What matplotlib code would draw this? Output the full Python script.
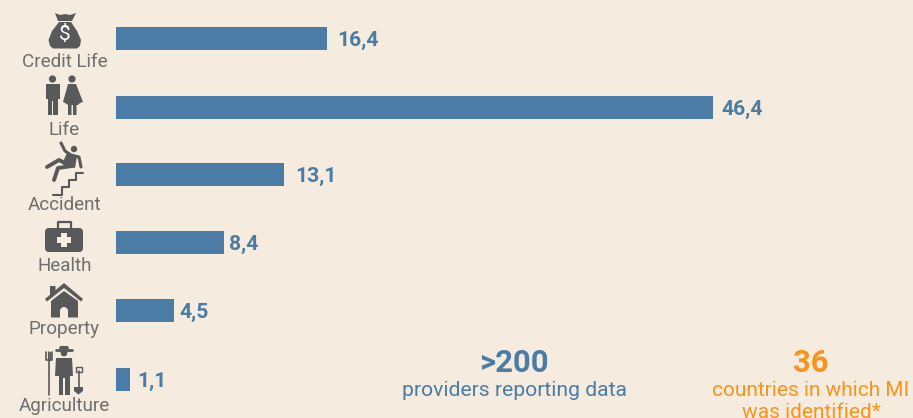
import matplotlib
matplotlib.use("Agg")
import matplotlib.pyplot as plt
from matplotlib.patches import Polygon, Circle, FancyBboxPatch, Rectangle, Wedge

categories = ["Credit Life", "Life", "Accident", "Health", "Property", "Agriculture"]
values = [16.4, 46.4, 13.1, 8.4, 4.5, 1.1]
value_labels = ["16,4", "46,4", "13,1", "8,4", "4,5", "1,1"]
bar_rows = [38.5, 107, 174.5, 242, 310, 379]
label_rows = [62, 130, 205, 266, 329, 406]

bg = "#f5ebde"
blue = "#4a7ca5"
orange = "#f7941e"
icon = "#58595b"
grey = "#6d6e70"
font = "Roboto"

fig = plt.figure(figsize=(9.13, 4.18), dpi=100, facecolor=bg)

# bars, y axis runs in picture rows so the uneven spacing stays
ax = fig.add_axes([116 / 913, 0, 797 / 913, 1])
ax.set_facecolor("none")
ax.barh(bar_rows, values, height=23, color=blue)
ax.set_xlim(0, 797 / 12.86)
ax.set_ylim(418, 0)
ax.axis("off")

# overlay in pixels for labels and icons
ov = fig.add_axes([0, 0, 1, 1])
ov.set_xlim(0, 913)
ov.set_ylim(418, 0)
ov.axis("off")
ov.patch.set_alpha(0)

label_x = [337, 721, 295.5, 229.5, 179, 137.5]
for x, r, t in zip(label_x, bar_rows, value_labels):
    ov.text(x, r + 2, t, color=blue, fontsize=15.2, fontweight="bold", family=font, va="center", ha="left")
for c, r in zip(categories, label_rows):
    ov.text(64.5, r, c, color=grey, fontsize=13.6, family=font, va="center", ha="center")


def poly(pts, color=icon):
    ov.add_patch(Polygon(pts, closed=True, fc=color, ec="none"))


def line(pts, lw=2.0, color=icon):
    ov.plot([p[0] for p in pts], [p[1] for p in pts], color=color, lw=lw,
            solid_capstyle="round", solid_joinstyle="round")


def circ(x, y, r, color=icon):
    ov.add_patch(Circle((x, y), r, fc=color, ec="none"))


# money bag
poly([(55, 13), (60, 15), (65, 14), (70, 15), (76, 13), (72, 21), (58, 21)])
poly([(59, 22), (71, 22), (77, 31), (81, 40), (80, 46), (77, 48.5), (53, 48.5), (50, 46), (48.5, 40), (52, 31)])
ov.text(64.5, 34.5, "$", color="white", fontsize=15, family=font, ha="center", va="center")

# man and woman
circ(52.5, 79, 3.6)
poly([(46, 84), (60, 84), (60, 99), (58, 99), (58, 115), (53.2, 115), (53.2, 101), (52, 101), (52, 115), (47.5, 115), (47.5, 99), (45.5, 99)])
circ(72, 79, 3.6)
poly([(68, 84), (76, 84), (83, 102), (80, 103), (78, 105), (76.5, 105), (76.5, 115), (73, 115), (73, 105), (71.5, 105), (71.5, 115), (68, 115), (68, 105), (65, 103), (63, 102)])

# falling person on stairs
circ(74, 149, 3.2)
line([(61, 143), (65, 151), (71, 155), (79, 157), (81, 167)], lw=2.2)
poly([(67, 153), (77, 156), (75, 168), (69, 167), (62, 164)])
line([(69, 165), (59, 160), (47, 167)], lw=2.8)
line([(72, 166), (58, 168), (54, 180)], lw=2.8)
line([(53, 195), (62, 195), (62, 187), (68.5, 187), (68.5, 180), (76, 180), (76, 173), (83, 173)], lw=1.5)

# medical case
ov.add_patch(FancyBboxPatch((45, 228), 38, 24, boxstyle="round,pad=0,rounding_size=4", fc=icon, ec="none"))
line([(58, 228), (58, 222), (71, 222), (71, 228)], lw=1.6)
ov.add_patch(Rectangle((61, 233), 6, 14, fc=bg, ec="none"))
ov.add_patch(Rectangle((57, 237), 14, 6, fc=bg, ec="none"))

# house
poly([(45, 299), (64, 283), (83, 299), (81, 301.5), (64, 288), (47, 301.5)])
poly([(50, 286), (55.5, 286), (55.5, 292), (50, 296)])
poly([(51, 301), (64, 291), (78, 301), (78, 317.5), (51, 317.5)])
ov.add_patch(Rectangle((60, 311), 8, 6.5, fc=bg, ec="none"))
ov.add_patch(Wedge((64, 311), 4, 180, 360, fc=bg, ec="none"))

# farmer, fork and shovel
line([(56, 349.5), (72, 349.5)], lw=2)
poly([(60, 346), (68, 346), (69, 349), (59, 349)])
circ(64, 353, 3.4)
poly([(56, 358), (72, 358), (73, 376), (70, 376), (70, 395), (65, 395), (65, 378), (63, 378), (63, 395), (59, 395), (59, 376), (55, 376)])
line([(48.5, 352), (48.5, 395)], lw=1.2)
line([(45.5, 352), (45.5, 360), (51.5, 360), (51.5, 352)], lw=1.2)
line([(47.5, 352), (47.5, 360)], lw=0.8)
line([(49.8, 352), (49.8, 360)], lw=0.8)
line([(78.5, 371), (78.5, 387)], lw=1.2)
ov.add_patch(Rectangle((75.5, 367), 6, 4.5, fc="none", ec=icon, lw=1))
poly([(74, 387), (83, 387), (83, 391), (78.5, 394.5), (74, 391)])

# summary figures
ov.text(514, 363, ">200", color=blue, fontsize=22.3, fontweight="bold", family=font, ha="center", va="center")
ov.text(514, 391, "providers reporting data", color=blue, fontsize=15.2, family=font, ha="center", va="center")
ov.text(811, 363, "36", color=orange, fontsize=22.3, fontweight="bold", family=font, ha="center", va="center")
ov.text(811, 391, "countries in which MI", color=orange, fontsize=15, family=font, ha="center", va="center")
ov.text(811, 413, "was identified*", color=orange, fontsize=15, family=font, ha="center", va="center")

fig.savefig("out.png", dpi=100, facecolor=bg)
